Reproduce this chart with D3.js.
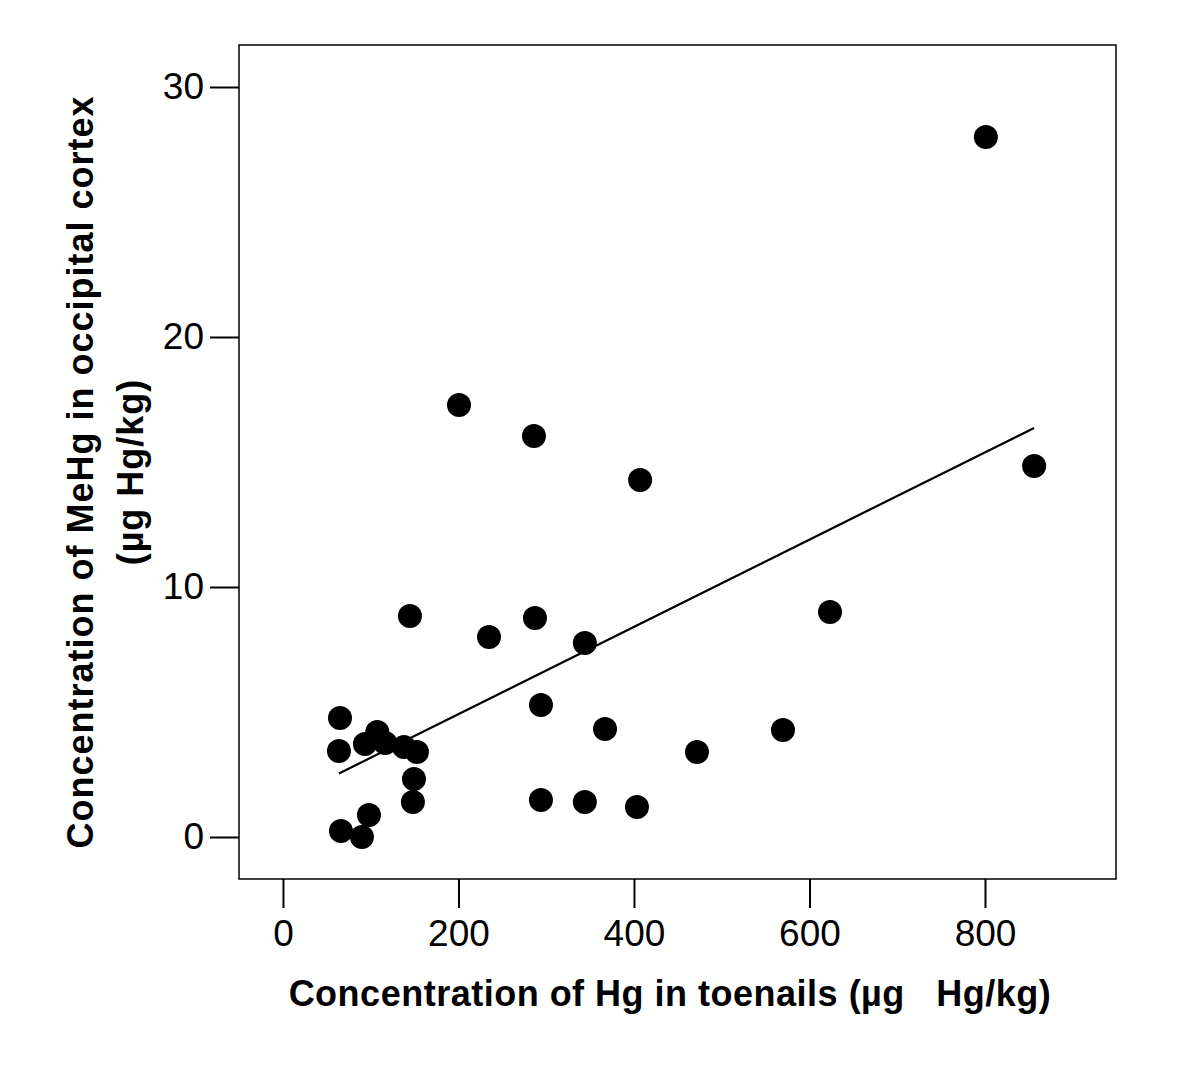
<!DOCTYPE html>
<html><head><meta charset="utf-8">
<script src="https://cdn.jsdelivr.net/npm/d3@7"></script>
<style>body{margin:0;background:#fff}</style>
</head><body>
<svg id="c" width="1200" height="1073"></svg>
<script>
const toenailHg = [801, 856, 200.6, 286, 407, 144.7, 234.8, 287.2, 344, 623.4, 294, 367, 471.8, 569.8, 65, 63.8, 93.4, 107.5, 116.5, 137.9, 152.7, 149.3, 148.1, 294, 344, 403.4, 66.1, 90, 98];
const cortexMeHg = [28.0, 14.84, 17.28, 16.04, 14.28, 8.84, 8.0, 8.76, 7.76, 9.0, 5.28, 4.32, 3.4, 4.28, 4.76, 3.44, 3.72, 4.2, 3.76, 3.6, 3.4, 2.32, 1.4, 1.48, 1.4, 1.2, 0.24, 0.0, 0.88];
const xTicks = [0, 200, 400, 600, 800];
const yTicks = [0, 10, 20, 30];
const fitIntercept = 1.426, fitSlope = 0.01745;
const xTitle = "Concentration of Hg in toenails (\u00B5g   Hg/kg)";
const yTitle1 = "Concentration of MeHg in occipital cortex";
const yTitle2 = "(\u00B5g Hg/kg)";

const svg = d3.select("#c");
const L = 239, R = 1116, T = 45, B = 879;
const x = d3.scaleLinear().domain([-50.1, 949.3]).range([L, R]);
const y = d3.scaleLinear().domain([-1.68, 31.68]).range([B, T]);
const font = "'Liberation Sans', Arial, sans-serif";

svg.append("rect").attr("x", L).attr("y", T).attr("width", R - L).attr("height", B - T)
  .attr("fill", "none").attr("stroke", "#000").attr("stroke-width", 1.5);

const xAxis = svg.append("g").attr("transform", `translate(0,${B})`)
  .call(d3.axisBottom(x).tickValues(xTicks).tickSize(29).tickPadding(12).tickFormat(d3.format("d")));
const yAxis = svg.append("g").attr("transform", `translate(${L},0)`)
  .call(d3.axisLeft(y).tickValues(yTicks).tickSize(29).tickPadding(6).tickFormat(d3.format("d")));
[xAxis, yAxis].forEach(a => {
  a.select(".domain").remove();
  a.selectAll(".tick line").attr("stroke", "#000").attr("stroke-width", 2);
  a.selectAll(".tick text").attr("fill", "#000").style("font-family", font).style("font-size", "37px");
});

svg.append("line")
  .attr("x1", x(d3.min(toenailHg))).attr("y1", y(fitIntercept + fitSlope * d3.min(toenailHg)))
  .attr("x2", x(d3.max(toenailHg))).attr("y2", y(fitIntercept + fitSlope * d3.max(toenailHg)))
  .attr("stroke", "#000").attr("stroke-width", 2.2);

svg.append("g").selectAll("circle").data(toenailHg).join("circle")
  .attr("cx", d => x(d)).attr("cy", (d, i) => y(cortexMeHg[i])).attr("r", 12).attr("fill", "#000");

svg.append("text").attr("x", 670).attr("y", 1006).attr("text-anchor", "middle")
  .style("white-space", "pre").attr("xml:space", "preserve")
  .style("font-family", font).style("font-weight", "bold").style("font-size", "36px")
  .style("letter-spacing", "0.5px").text(xTitle);
const yt = svg.append("g").attr("transform", "translate(0,472) rotate(-90)");
yt.append("text").attr("x", 0).attr("y", 93).attr("text-anchor", "middle")
  .style("font-family", font).style("font-weight", "bold").style("font-size", "36px")
  .style("letter-spacing", "1px").text(yTitle1);
yt.append("text").attr("x", 0).attr("y", 143).attr("text-anchor", "middle")
  .style("font-family", font).style("font-weight", "bold").style("font-size", "36px")
  .style("letter-spacing", "1px").text(yTitle2);
</script>
</body></html>
